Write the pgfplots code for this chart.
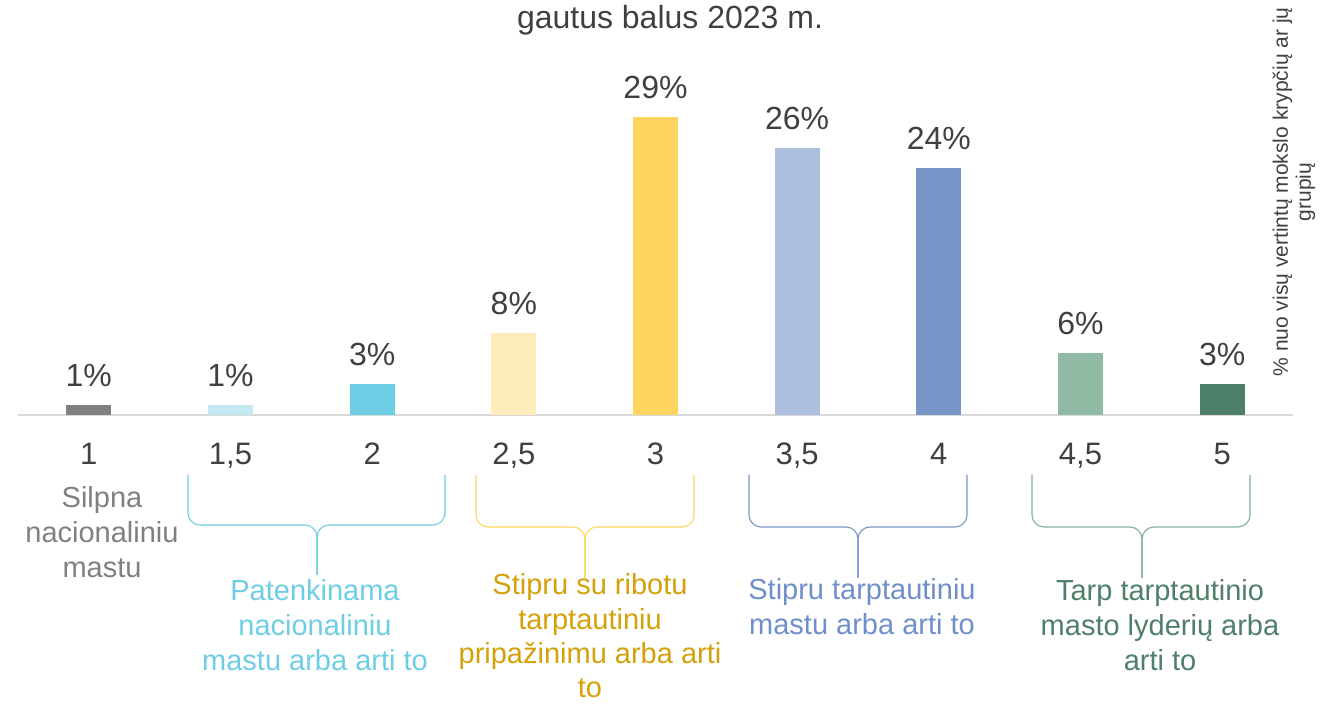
\documentclass[border=0pt]{standalone}
\usepackage{pgfplots}
\pgfplotsset{compat=1.18}
\usepackage{fontspec}
\setmainfont{Liberation Sans}
\definecolor{cgrey}{HTML}{808080}
\definecolor{ccyanl}{HTML}{C5E9F2}
\definecolor{ccyan}{HTML}{6DCDE5}
\definecolor{cyell}{HTML}{FFECBB}
\definecolor{cyel}{HTML}{FFD55F}
\definecolor{cbluel}{HTML}{ADBFDE}
\definecolor{cblue}{HTML}{7895C7}
\definecolor{cgreenl}{HTML}{8FBBA5}
\definecolor{cgreen}{HTML}{4D7F68}
\definecolor{tgold}{HTML}{D4A10A}
\definecolor{tblue}{HTML}{6F8FCB}
\definecolor{tgreen}{HTML}{4E7F69}
\definecolor{labgrey}{HTML}{404040}
\definecolor{linegrey}{HTML}{D9D9D9}
\begin{document}
\begin{tikzpicture}
\path[use as bounding box] (0,0) rectangle (668.5pt,353pt);
\begin{axis}[
  at={(9pt,145.5pt)}, anchor=south west,
  scale only axis, width=637.5pt, height=179.9pt,
  xmin=-0.5, xmax=8.5, ymin=0, ymax=35,
  hide y axis,
  axis x line=bottom,
  x axis line style={draw=linegrey, line width=1pt, -},
  xtick={0,1,2,3,4,5,6,7,8},
  xticklabels={1,{1,5},2,{2,5},3,{3,5},4,{4,5},5},
  major tick length=0pt,
  xtick style={draw=none},
  xticklabel style={font=\fontsize{15.5}{18}\selectfont, text=labgrey, anchor=base, yshift=-25pt},
  ybar, bar width=22.5pt, bar shift=0pt,
  nodes near coords, point meta=explicit symbolic,
  every node near coord/.append style={font=\fontsize{16}{19}\selectfont, text=labgrey, anchor=south, inner sep=0pt, yshift=9pt},
  clip=false,
]
\addplot[fill=cgrey, draw=none] coordinates {(0,1) [1\%]};
\addplot[fill=ccyanl, draw=none] coordinates {(1,1) [1\%]};
\addplot[fill=ccyan, draw=none] coordinates {(2,3) [3\%]};
\addplot[fill=cyell, draw=none] coordinates {(3,8) [8\%]};
\addplot[fill=cyel, draw=none] coordinates {(4,29) [29\%]};
\addplot[fill=cbluel, draw=none] coordinates {(5,26) [26\%]};
\addplot[fill=cblue, draw=none] coordinates {(6,24) [24\%]};
\addplot[fill=cgreenl, draw=none] coordinates {(7,6) [6\%]};
\addplot[fill=cgreen, draw=none] coordinates {(8,3) [3\%]};
\end{axis}
\begin{scope}[shift={(0pt,353pt)}, x=0.5pt, y=-0.5pt]
\node[font=\fontsize{16}{19}\selectfont, text=labgrey] at (670,20) {gautus balus 2023 m.};
\node[font=\fontsize{10.5}{11.5}\selectfont, text=labgrey, rotate=90, align=center] at (1294,192) {\% nuo visų vertintų mokslo krypčių ar jų\\grupių};
% braces
\draw[ccyan, line width=0.55pt, rounded corners=6pt] (188,475) -- (188,525) -- (317,525) -- (317,575);
\draw[ccyan, line width=0.55pt, rounded corners=6pt] (445,475) -- (445,525) -- (317,525) -- (317,575);
\draw[cyel, line width=0.55pt, rounded corners=6pt] (476,475) -- (476,527) -- (585,527) -- (585,578);
\draw[cyel, line width=0.55pt, rounded corners=6pt] (694,475) -- (694,527) -- (585,527) -- (585,578);
\draw[cblue, line width=0.55pt, rounded corners=6pt] (749,475) -- (749,527) -- (858,527) -- (858,578);
\draw[cblue, line width=0.55pt, rounded corners=6pt] (967,475) -- (967,527) -- (858,527) -- (858,578);
\draw[cgreenl!80!cgreen, line width=0.55pt, rounded corners=6pt] (1032,475) -- (1032,527) -- (1142,527) -- (1142,578);
\draw[cgreenl!80!cgreen, line width=0.55pt, rounded corners=6pt] (1250,475) -- (1250,527) -- (1142,527) -- (1142,578);
% category texts
\node[font=\fontsize{14.5}{17.5}\selectfont, text=cgrey, align=center] at (102,532) {Silpna\\nacionaliniu\\mastu};
\node[font=\fontsize{14.5}{17.5}\selectfont, text=ccyan, align=center] at (315,625) {Patenkinama\\nacionaliniu\\mastu arba arti to};
\node[font=\fontsize{14.5}{17.2}\selectfont, text=tgold, align=center] at (590,636) {Stipru su ribotu\\tarptautiniu\\pripažinimu arba arti\\to};
\node[font=\fontsize{14.5}{17.5}\selectfont, text=tblue, align=center] at (862,607) {Stipru tarptautiniu\\mastu arba arti to};
\node[font=\fontsize{14.5}{17.5}\selectfont, text=tgreen, align=center] at (1160,625) {Tarp tarptautinio\\masto lyderių arba\\arti to};
\end{scope}
\end{tikzpicture}
\end{document}
